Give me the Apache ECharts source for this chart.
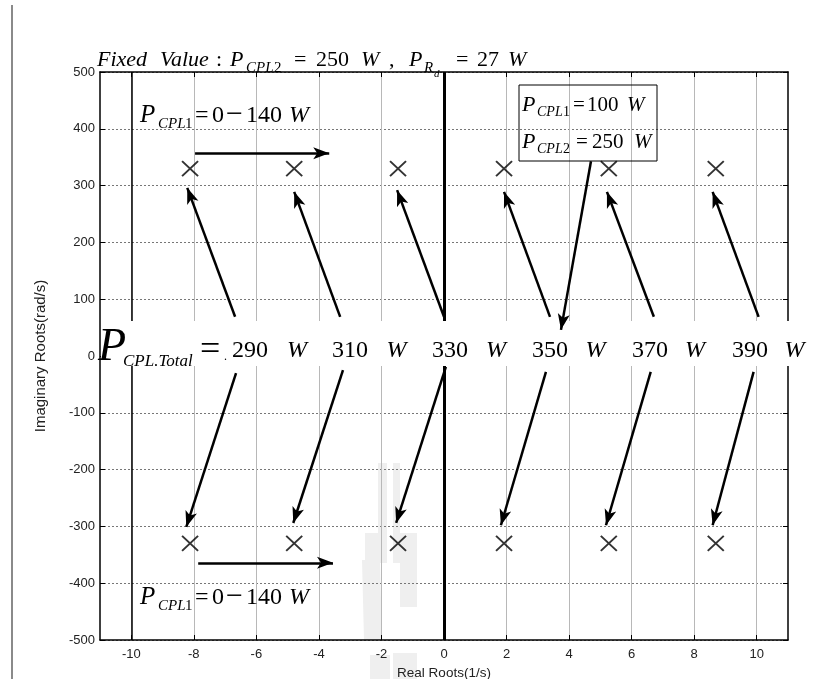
<!DOCTYPE html>
<html><head><meta charset="utf-8">
<script src="https://cdn.jsdelivr.net/npm/echarts@6/dist/echarts.min.js"></script>
<style>html,body{margin:0;padding:0;background:#fff}#c{width:831px;height:679px}</style>
</head><body><div id="c"></div>
<script>
// ---------- data ----------
const xTicks = [-10, -8, -6, -4, -2, 0, 2, 4, 6, 8, 10];
const poleRe = [-8.12, -4.79, -1.47, 1.92, 5.27, 8.69];
const poleIm = [330, -330];
const totalPowers = [290, 310, 330, 350, 370, 390];
// arrows: [xStart, yStart, xTip, yTip] in data units
const arrowsUp = [[-6.68, 69, -8.21, 296], [-3.32, 69, -4.79, 289], [0, 69, -1.50, 292],
                  [3.39, 69, 1.92, 289], [6.71, 69, 5.21, 289], [10.06, 69, 8.59, 289]];
const arrowsDown = [[-6.65, -30, -8.24, -301], [-3.23, -25, -4.82, -294], [0.06, -19, -1.53, -294],
                    [3.26, -28, 1.82, -298], [6.61, -28, 5.18, -298], [9.90, -28, 8.59, -298]];
const sweepArrows = [[-7.96, 357, -3.67, 357], [-7.86, -364, -3.55, -364]];
const legendArrow = [[4.70, 343, 3.74, 46]];
const refLinesX = [-10, 0];
const refLineWidths = [1.5, 3];

// ---------- helpers ----------
const SERIF = '"Liberation Serif","Times New Roman",serif';
function T(x, base, text, size, italic) {
  return {type: 'text', z: 5, silent: true,
    style: {text: text, x: x, y: base - 0.3 * size,
      font: (italic ? 'italic ' : '') + size + 'px ' + SERIF,
      fill: '#000', align: 'left', verticalAlign: 'middle'}};
}
const texts = [];
function add(list) { list.forEach(a => texts.push(T(a[0], a[1], a[2], a[3], a[4]))); }

// title
add([[97,67,'Fixed',22,1],[160,67,'Value',22,1],[216,67,':',22,0],[230,67,'P',22,1],[246,73,'CPL',15,1],[274,73,'2',15,0],
     [294,67,'=',22,0],[316,67,'250',22,0],[361,67,'W',22,1],[389,67,',',22,0],
     [409,67,'P',22,1],[424,73,'R',15,1],[434,77,'d',11,1],[456,67,'=',22,0],[477,67,'27',22,0],[508,67,'W',22,1]]);
// P_CPL1 sweep labels
[123, 605].forEach(b => add([[140,b,'P',25,1],[158,b+6,'CPL',15,1],[185,b+6,'1',15,0],[195,b,'=',24,0],
  [212,b,'0',24,0],[226,b+1,'\u2212',30,0],[246,b,'140',24,0],[289,b,'W',24,1]]));
// legend box texts
add([[522,112,'P',22,1],[537,117,'CPL',14,1],[563,117,'1',14,0],[573,112,'=',21,0],[587,112,'100',21,0],[627,112,'W',21,1],
     [522,149,'P',22,1],[537,154,'CPL',14,1],[563,154,'2',14,0],[576,149,'=',21,0],[592,149,'250',21,0],[634,149,'W',21,1]]);
// P_CPL.Total row
add([[98,362,'P',46,1],[123,367,'CPL.Total',17,1],[200,361,'=',36,0],[224,360,'.',12,0]]);
totalPowers.forEach((p, i) => add([[232 + 100 * i, 358, String(p), 24, 0], [287 + 99.5 * i, 358, 'W', 24, 1]]));

const wm = '#efefef';
const graphics = [
  {type: 'line', z: 5, shape: {x1: 12, y1: 5, x2: 12, y2: 679}, style: {stroke: '#8a8a8a', lineWidth: 2}},
  // watermark (faint)
  {type: 'rect', z: -1, shape: {x: 378, y: 463, width: 9, height: 100}, style: {fill: wm}},
  {type: 'rect', z: -1, shape: {x: 393, y: 463, width: 7, height: 100}, style: {fill: wm}},
  {type: 'rect', z: -1, shape: {x: 365, y: 533, width: 13, height: 30}, style: {fill: wm}},
  {type: 'rect', z: -1, shape: {x: 400, y: 533, width: 17, height: 74}, style: {fill: wm}},
  {type: 'polygon', z: -1, shape: {points: [[362, 560], [380, 560], [382, 640], [364, 640]]}, style: {fill: wm}},
  {type: 'rect', z: -1, shape: {x: 393, y: 653, width: 24, height: 26}, style: {fill: wm}},
  {type: 'rect', z: -1, shape: {x: 370, y: 655, width: 20, height: 24}, style: {fill: wm}},
  // white band behind the P_total row
  {type: 'rect', z: 2, shape: {x: 101, y: 321, width: 705, height: 45}, style: {fill: '#fff'}},
  // legend box
  {type: 'rect', z: 4, shape: {x: 519, y: 85, width: 138, height: 76}, style: {fill: 'none', stroke: '#000', lineWidth: 1}}
].concat(texts);

// ---------- chart ----------
const chart = echarts.init(document.getElementById('c'), null, {width: 831, height: 679});
const SANS = 'Liberation Sans, Arial, sans-serif';
const axisFont = {color: '#222', fontSize: 13, fontFamily: SANS};
const toLines = arr => arr.map(a => ({coords: [[a[0], a[1]], [a[2], a[3]]]}));

chart.setOption({
  animation: false,
  backgroundColor: '#fff',
  grid: {left: 100, right: 43, top: 72, bottom: 39, containLabel: false, outerBoundsMode: 'none'},
  xAxis: [{
    type: 'value', min: -11, max: 11, position: 'bottom',
    name: 'Real Roots(1/s)', nameLocation: 'middle', nameGap: 26,
    nameTextStyle: {color: '#222', fontSize: 13.5, fontFamily: SANS},
    axisLine: {onZero: false, lineStyle: {color: '#000', width: 1.5}},
    axisTick: {inside: true, length: 5, customValues: xTicks, lineStyle: {color: '#000'}},
    axisLabel: Object.assign({customValues: xTicks, margin: 8}, axisFont),
    splitLine: {show: true, lineStyle: {color: '#b8b8b8', width: 1}}
  }, {
    type: 'value', min: -11, max: 11, position: 'top',
    axisLine: {onZero: false, lineStyle: {color: '#000', width: 1.5}},
    axisTick: {inside: true, length: 5, customValues: xTicks, lineStyle: {color: '#000'}},
    axisLabel: {show: false}, splitLine: {show: false}
  }],
  yAxis: [{
    type: 'value', min: -500, max: 500, interval: 100, position: 'left',
    name: 'Imaginary Roots(rad/s)', nameLocation: 'middle', nameGap: 52, nameRotate: 90,
    nameTextStyle: {color: '#222', fontSize: 15, fontFamily: SANS},
    axisLine: {onZero: false, lineStyle: {color: '#000', width: 1.5}},
    axisTick: {inside: true, length: 5, lineStyle: {color: '#000'}},
    axisLabel: Object.assign({margin: 5}, axisFont),
    splitLine: {show: true, lineStyle: {color: '#777', width: 1, type: [2, 2]}}
  }, {
    type: 'value', min: -500, max: 500, interval: 100, position: 'right',
    axisLine: {onZero: false, lineStyle: {color: '#000', width: 1.5}},
    axisTick: {inside: true, length: 5, lineStyle: {color: '#000'}},
    axisLabel: {show: false}, splitLine: {show: false}
  }],
  series: [{
    type: 'lines', coordinateSystem: 'cartesian2d', z: 1, silent: true,
    symbol: 'none',
    data: refLinesX.map((x, i) => ({coords: [[x, -500], [x, 500]], lineStyle: {width: refLineWidths[i]}})),
    lineStyle: {color: '#000', opacity: 1, curveness: 0}
  }, {
    type: 'lines', coordinateSystem: 'cartesian2d', z: 3, silent: true,
    symbol: ['none', 'arrow'], symbolSize: [1, [9, 16]],
    data: toLines(arrowsUp.concat(arrowsDown, sweepArrows, legendArrow)),
    lineStyle: {color: '#000', width: 2.5, opacity: 1, curveness: 0}
  }, {
    type: 'scatter', z: 3, silent: true,
    symbol: 'path://M0,0L10,10M10,0L0,10', symbolSize: [16, 15],
    itemStyle: {color: 'rgba(0,0,0,0)', borderColor: '#000', borderWidth: 1.9},
    data: poleIm.flatMap(im => poleRe.map(re => [re, im]))
  }],
  graphic: {elements: graphics}
});
</script></body></html>
